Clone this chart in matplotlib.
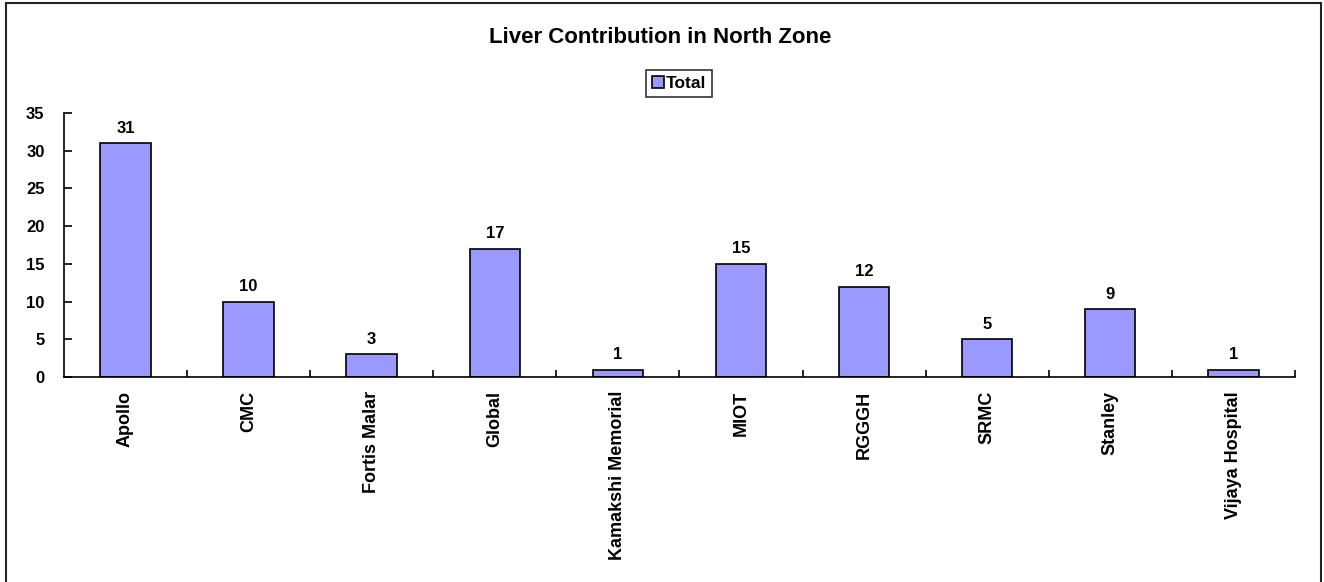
import matplotlib
matplotlib.use("Agg")
import matplotlib.pyplot as plt
from matplotlib.patches import Rectangle

categories = ["Apollo", "CMC", "Fortis Malar", "Global", "Kamakshi Memorial",
              "MIOT", "RGGGH", "SRMC", "Stanley", "Vijaya Hospital"]
totals = [31, 10, 3, 17, 1, 15, 12, 5, 9, 1]
yticks = [0, 5, 10, 15, 20, 25, 30, 35]

plt.rcParams['font.family'] = ['Liberation Sans', 'DejaVu Sans']

fig = plt.figure(figsize=(13.24, 5.82), dpi=100)
fig.patches.append(Rectangle((0.0045, -0.02), 0.993, 1.015, transform=fig.transFigure,
                             fill=False, edgecolor='#222222', linewidth=1.5))
ax = fig.add_axes([0.0483, 0.352, 0.9297, 0.454])

x = list(range(len(categories)))
bars = ax.bar(x, totals, width=0.41, color='#9999FF', edgecolor='black',
              linewidth=1.2, label='Total')
for xi, v in zip(x, totals):
    ax.text(xi, v + 1.0, str(v), ha='center', va='bottom', fontsize=12, fontweight='bold')

ax.set_xlim(-0.5, len(categories) - 0.5)
ax.set_ylim(0, 35)
ax.set_yticks(yticks)
ax.set_yticklabels([str(t) for t in yticks], fontsize=12, fontweight='bold')
ax.tick_params(axis='y', direction='in', length=6, width=1.2, pad=14)
ax.set_xticks(x)
ax.set_xticklabels(categories, rotation=90, fontsize=13, fontweight='bold')
ax.tick_params(axis='x', length=0, pad=10)
ax.set_xticks([i + 0.5 for i in x], minor=True)
ax.tick_params(axis='x', which='minor', direction='in', length=5, width=1.2)
for s in ['top', 'right']:
    ax.spines[s].set_visible(False)
for s in ['left', 'bottom']:
    ax.spines[s].set_linewidth(1.2)

fig.text(0.4985, 0.936, "Liver Contribution in North Zone", ha='center', va='center',
         fontsize=16, fontweight='bold')
leg = fig.legend(handles=[bars], labels=['Total'], loc='center', bbox_to_anchor=(0.513, 0.857),
                 frameon=True, fancybox=False, edgecolor='black', handlelength=0.7,
                 handleheight=0.7, handletextpad=0.1, borderpad=0.35, borderaxespad=0,
                 prop={'size': 12.5, 'weight': 'bold'})
leg.get_frame().set_linewidth(1.2)

fig.savefig("out.png", dpi=100)
